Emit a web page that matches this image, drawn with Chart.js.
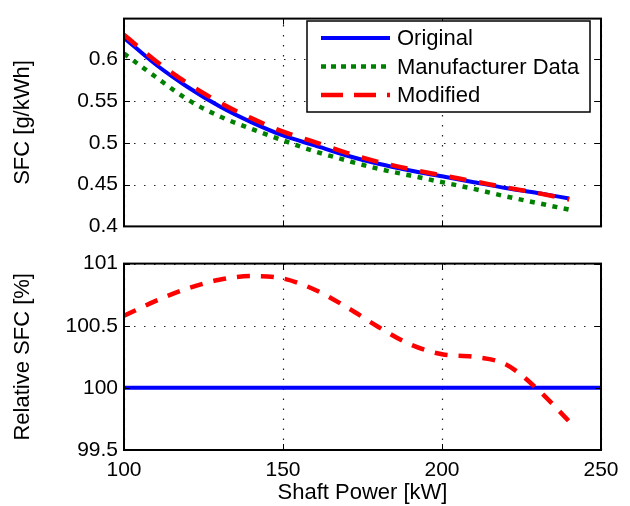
<!DOCTYPE html>
<html>
<head>
    <title>SFC</title>
    <style>
        body, html {
            margin: 0;
            padding: 0;
            background: #fff;
            width: 630px;
            height: 506px;
            overflow: hidden;
        }
        #topChart { position: absolute; left: 0; top: 0; }
        #bottomChart { position: absolute; left: 0; top: 245px; }
    </style>
</head>
<body>
    <canvas id="topChart" width="630" height="245"></canvas>
    <canvas id="bottomChart" width="630" height="261"></canvas>

    <script src="https://cdn.jsdelivr.net/npm/chart.js"></script>
    <script>
        // shaft power [kW]
        const power = [100, 110, 120, 130, 140, 150, 160, 170, 180, 190, 200, 210, 220, 230, 240];
        // SFC [g/kWh]
        const sfcOriginal     = [0.626, 0.594, 0.567, 0.544, 0.525, 0.509, 0.497, 0.485, 0.475, 0.467, 0.460, 0.453, 0.446, 0.440, 0.4335];
        const sfcManufacturer = [0.607, 0.579, 0.552, 0.532, 0.517, 0.503, 0.490, 0.479, 0.469, 0.461, 0.453, 0.445, 0.436, 0.428, 0.420];
        const sfcModified     = [0.6296, 0.5982, 0.5715, 0.5487, 0.5297, 0.5135, 0.5009, 0.4882, 0.4773, 0.4686, 0.4612, 0.4541, 0.4468, 0.4400, 0.4323];
        // relative SFC [%]
        const relPowerOriginal = [100, 250];
        const relOriginal      = [100, 100];
        const relModified      = [100.58, 100.70, 100.80, 100.87, 100.90, 100.88, 100.79, 100.65, 100.49, 100.35, 100.27, 100.25, 100.19, 99.99, 99.73];

        const xTicks = [100, 150, 200, 250];
        const yTicksTop = [0.4, 0.45, 0.5, 0.55, 0.6];
        const yTicksBottom = [99.5, 100, 100.5, 101];

        const legendLabels = ['Original', 'Manufacturer Data', 'Modified'];

        Chart.defaults.font.family = '"Liberation Sans", Arial, sans-serif';
        Chart.defaults.color = '#000';

        function pts(xs, ys) {
            return xs.map((x, i) => ({ x: x, y: ys[i] }));
        }

        // dotted grid, box around the axes and inward tick marks, matlab style
        const boxPlugin = {
            id: 'box',
            beforeDatasetsDraw(chart) {
                const ctx = chart.ctx;
                const a = chart.chartArea;
                const sx = chart.scales.x, sy = chart.scales.y;
                ctx.save();
                ctx.strokeStyle = '#222';
                ctx.lineWidth = 1.2;
                ctx.setLineDash([1.5, 8.5]);
                sx.ticks.forEach(t => {
                    const px = Math.round(sx.getPixelForValue(t.value)) + 0.5;
                    ctx.beginPath();
                    ctx.moveTo(px, a.bottom); ctx.lineTo(px, a.top);
                    ctx.stroke();
                });
                sy.ticks.forEach(t => {
                    const py = Math.round(sy.getPixelForValue(t.value)) + 0.5;
                    ctx.beginPath();
                    ctx.moveTo(a.left, py); ctx.lineTo(a.right, py);
                    ctx.stroke();
                });
                ctx.restore();
            },
            afterDatasetsDraw(chart) {
                const ctx = chart.ctx;
                const a = chart.chartArea;
                const sx = chart.scales.x, sy = chart.scales.y;
                ctx.save();
                ctx.strokeStyle = '#000';
                ctx.setLineDash([]);
                ctx.lineWidth = 1;
                ctx.beginPath();
                sx.ticks.forEach(t => {
                    const px = Math.round(sx.getPixelForValue(t.value)) + 0.5;
                    ctx.moveTo(px, a.bottom); ctx.lineTo(px, a.bottom - 6);
                    ctx.moveTo(px, a.top); ctx.lineTo(px, a.top + 6);
                });
                sy.ticks.forEach(t => {
                    const py = Math.round(sy.getPixelForValue(t.value)) + 0.5;
                    ctx.moveTo(a.left, py); ctx.lineTo(a.left + 6, py);
                    ctx.moveTo(a.right, py); ctx.lineTo(a.right - 6, py);
                });
                ctx.stroke();
                ctx.lineWidth = 2;
                ctx.strokeRect(a.left, a.top, a.right - a.left, a.bottom - a.top);
                ctx.restore();
            }
        };

        const legendPlugin = {
            id: 'boxLegend',
            afterDraw(chart) {
                const ctx = chart.ctx;
                ctx.save();
                ctx.fillStyle = '#fff';
                ctx.fillRect(307, 21, 283, 91);
                ctx.strokeStyle = '#000';
                ctx.lineWidth = 1.5;
                ctx.setLineDash([]);
                ctx.strokeRect(307, 21, 283, 91);
                ctx.font = '22px "Liberation Sans", Arial, sans-serif';
                ctx.textBaseline = 'middle';
                ctx.fillStyle = '#000';
                chart.data.datasets.forEach((ds, i) => {
                    const y = 38 + i * 28.5;
                    ctx.strokeStyle = ds.borderColor;
                    ctx.lineWidth = ds.borderWidth;
                    ctx.setLineDash(ds.legendDash);
                    ctx.beginPath();
                    ctx.moveTo(321, y);
                    ctx.lineTo(390, y);
                    ctx.stroke();
                    ctx.fillText(ds.label, 397, y + 1);
                });
                ctx.restore();
            }
        };

        const gridOpts = { display: false, drawTicks: false };
        const borderOpts = { display: false };

        function fixedTicks(list) {
            return scale => { scale.ticks = list.map(v => ({ value: v })); };
        }

        new Chart(document.getElementById('topChart'), {
            type: 'line',
            data: {
                datasets: [{
                    label: legendLabels[0],
                    data: pts(power, sfcOriginal),
                    borderColor: '#0000ff',
                    borderWidth: 4,
                    legendDash: [],
                    order: 2
                }, {
                    label: legendLabels[1],
                    data: pts(power, sfcManufacturer),
                    borderColor: '#008000',
                    borderWidth: 4.5,
                    borderDash: [5, 6.5],
                    legendDash: [5, 5],
                    order: 1
                }, {
                    label: legendLabels[2],
                    data: pts(power, sfcModified),
                    borderColor: '#ff0000',
                    borderWidth: 4.5,
                    borderDash: [17, 13],
                    legendDash: [22, 11],
                    order: 0
                }]
            },
            options: {
                responsive: false,
                animation: false,
                devicePixelRatio: 1,
                layout: { padding: { top: 9, right: 29, left: 0, bottom: 0 } },
                elements: {
                    point: { radius: 0 },
                    line: { cubicInterpolationMode: 'monotone', borderCapStyle: 'butt' }
                },
                plugins: { legend: { display: false }, tooltip: { enabled: false } },
                scales: {
                    x: {
                        type: 'linear', min: 100, max: 250,
                        afterBuildTicks: fixedTicks(xTicks),
                        afterFit: s => { s.height = 17; },
                        grid: gridOpts, border: borderOpts,
                        ticks: { display: false }
                    },
                    y: {
                        min: 0.4, max: 0.649,
                        afterBuildTicks: fixedTicks(yTicksTop),
                        afterFit: s => { s.width = 124; },
                        grid: gridOpts, border: borderOpts,
                        ticks: { font: { size: 21 }, padding: 6, callback: v => String(v) },
                        title: { display: true, text: 'SFC [g/kWh]', font: { size: 22 }, padding: { top: 10, bottom: 0 } }
                    }
                }
            },
            plugins: [boxPlugin, legendPlugin]
        });

        new Chart(document.getElementById('bottomChart'), {
            type: 'line',
            data: {
                datasets: [{
                    label: legendLabels[0],
                    data: pts(relPowerOriginal, relOriginal),
                    borderColor: '#0000ff',
                    borderWidth: 4,
                    order: 1
                }, {
                    label: legendLabels[2],
                    data: pts(power, relModified),
                    borderColor: '#ff0000',
                    borderWidth: 4.5,
                    borderDash: [13, 11],
                    order: 0
                }]
            },
            options: {
                responsive: false,
                animation: false,
                devicePixelRatio: 1,
                layout: { padding: { top: 17, right: 29, left: 0, bottom: 0 } },
                elements: {
                    point: { radius: 0 },
                    line: { cubicInterpolationMode: 'monotone', borderCapStyle: 'butt' }
                },
                plugins: { legend: { display: false }, tooltip: { enabled: false } },
                scales: {
                    x: {
                        type: 'linear', min: 100, max: 250,
                        afterBuildTicks: fixedTicks(xTicks),
                        afterFit: s => { s.height = 56; },
                        grid: gridOpts, border: borderOpts,
                        ticks: { font: { size: 21 }, padding: 8, maxRotation: 0, callback: v => String(v) },
                        title: { display: true, text: 'Shaft Power [kW]', font: { size: 22 }, padding: 0 }
                    },
                    y: {
                        min: 99.5, max: 101,
                        afterBuildTicks: fixedTicks(yTicksBottom),
                        afterFit: s => { s.width = 124; },
                        grid: gridOpts, border: borderOpts,
                        ticks: { font: { size: 21 }, padding: 6, callback: v => String(v) },
                        title: { display: true, text: 'Relative SFC [%]', font: { size: 22 }, padding: { top: 10, bottom: 0 } }
                    }
                }
            },
            plugins: [boxPlugin]
        });
    </script>
</body>
</html>
